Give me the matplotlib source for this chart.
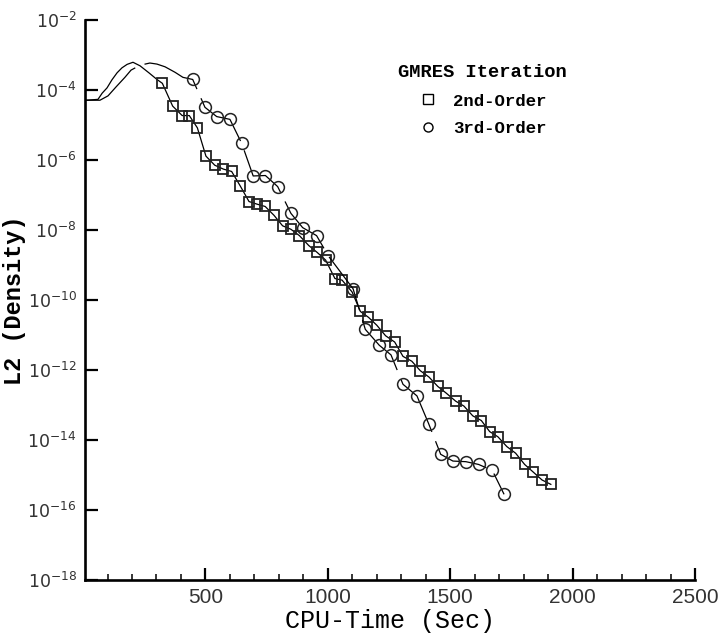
import matplotlib
matplotlib.use("Agg")
import matplotlib.pyplot as plt
from matplotlib.lines import Line2D
from matplotlib.ticker import FixedLocator, MultipleLocator, LogFormatterMathtext, NullLocator

plt.rcParams['mathtext.fontset'] = 'custom'
plt.rcParams['mathtext.rm'] = 'Liberation Sans'
plt.rcParams['mathtext.it'] = 'Liberation Sans'

# start-up phase (no markers)
o2_pre_x = [12, 61, 78, 98, 118, 139, 159, 180, 204, 233, 269, 302]
o2_pre_y = [5.1e-5, 5.4e-5, 8.1e-5, 1.15e-4, 1.95e-4, 3.1e-4, 4.3e-4, 5.4e-4,
            6.2e-4, 4.9e-4, 3.1e-4, 2.0e-4]
o3_pre_x = [12, 69, 102, 135, 171, 196, 233, 273, 302, 335, 376, 408]
o3_pre_y = [5.1e-5, 5.1e-5, 6.8e-5, 1.23e-4, 2.3e-4, 3.7e-4, 5.1e-4, 5.9e-4,
            5.5e-4, 4.6e-4, 3.2e-4, 2.3e-4]

# GMRES iterations, 2nd-order (squares)
o2_x = [324, 366, 405, 434, 467, 502, 538, 573, 607, 642, 678, 710, 744, 780,
        815, 849, 884, 922, 956, 991, 1029, 1058, 1099, 1133, 1166, 1200, 1236,
        1273, 1307, 1343, 1378, 1413, 1449, 1483, 1522, 1556, 1592, 1627, 1661,
        1695, 1731, 1767, 1804, 1838, 1875, 1911]
o2_y = [1.55e-4, 3.47e-5, 1.86e-5, 1.86e-5, 8.3e-6, 1.29e-6, 7.1e-7, 5.5e-7,
        4.7e-7, 1.82e-7, 6.5e-8, 5.5e-8, 4.7e-8, 2.63e-8, 1.32e-8, 1.05e-8,
        6.9e-9, 3.6e-9, 2.3e-9, 1.38e-9, 4.1e-10, 3.7e-10, 1.7e-10, 4.7e-11,
        3.2e-11, 1.9e-11, 9.5e-12, 6.3e-12, 2.45e-12, 1.78e-12, 9.5e-13, 6.3e-13,
        3.4e-13, 2.2e-13, 1.29e-13, 9.3e-14, 4.9e-14, 3.6e-14, 1.74e-14, 1.23e-14,
        6.5e-15, 4.2e-15, 2.0e-15, 1.23e-15, 7.2e-16, 5.4e-16]

# GMRES iterations, 3rd-order (circles)
o3_x = [448, 498, 546, 600, 648, 695, 745, 795, 849, 897, 954, 1002, 1103, 1153,
        1210, 1258, 1307, 1364, 1412, 1461, 1511, 1564, 1616, 1672, 1720]
o3_y = [2.0e-4, 3.2e-5, 1.74e-5, 1.45e-5, 3.0e-6, 3.5e-7, 3.6e-7, 1.74e-7,
        3.0e-8, 1.17e-8, 6.9e-9, 1.82e-9, 2.1e-10, 1.45e-11, 5.1e-12, 2.7e-12,
        3.9e-13, 1.82e-13, 2.9e-14, 3.9e-15, 2.5e-15, 2.4e-15, 2.0e-15, 1.35e-15,
        2.8e-16]

y_ticks = [1e-18, 1e-16, 1e-14, 1e-12, 1e-10, 1e-8, 1e-6, 1e-4, 1e-2]
x_ticks = [500, 1000, 1500, 2000, 2500]
legend_labels = ["2nd-Order", "3rd-Order"]

mono = "Liberation Mono"

fig = plt.figure(figsize=(7.18, 6.37), dpi=100)
ax = fig.add_axes([0.1184, 0.0895, 0.8496, 0.8791])

# 2nd-order: solid line, squares only on the GMRES part
x2 = o2_pre_x + o2_x
y2 = o2_pre_y + o2_y
ax.plot(x2, y2, color="black", lw=0.9, marker="s", ms=7, mfc="none", mec="#222222",
        mew=1.3, markevery=list(range(len(o2_pre_x), len(x2))))

# 3rd-order: long dashed line, circles on the GMRES part
x3 = o3_pre_x + o3_x
y3 = o3_pre_y + o3_y
ax.plot(x3, y3, color="black", lw=0.9, ls=(0, (50, 8)), marker="o", ms=8.5,
        mfc="none", mec="#222222", mew=1.1,
        markevery=list(range(len(o3_pre_x), len(x3))))

ax.set_yscale("log")
ax.set_ylim(1e-18, 1e-2)
ax.set_xlim(8, 2500)

ax.yaxis.set_major_locator(FixedLocator(y_ticks))
ax.yaxis.set_major_formatter(LogFormatterMathtext())
ax.yaxis.set_minor_locator(NullLocator())
ax.xaxis.set_major_locator(FixedLocator(x_ticks))
ax.xaxis.set_minor_locator(MultipleLocator(100))

for s in ["top", "right"]:
    ax.spines[s].set_visible(False)
for s in ["left", "bottom"]:
    ax.spines[s].set_linewidth(1.9)

ax.tick_params(which="major", direction="in", length=9, width=1.6, pad=6)
ax.tick_params(which="minor", direction="in", length=4.5, width=1.1)
ax.tick_params(axis="x", labelsize=15)
ax.tick_params(axis="y", labelsize=12.5, pad=6)
for lab in ax.get_xticklabels():
    lab.set_fontfamily("Liberation Sans")
    lab.set_color("#333333")
for lab in ax.get_yticklabels():
    lab.set_color("#333333")

ax.set_xlabel("CPU-Time (Sec)", fontsize=18, family=mono)
ax.set_ylabel("L2 (Density)", fontsize=17, family=mono, fontweight="bold")
ax.xaxis.set_label_coords(0.5, -0.052)
ax.yaxis.set_label_coords(-0.097, 0.5)

handles = [Line2D([], [], ls="none", marker="s", ms=6.5, mfc="none", mec="black", mew=1.0),
           Line2D([], [], ls="none", marker="o", ms=6.5, mfc="none", mec="black", mew=1.0)]
leg = ax.legend(handles, legend_labels, title="GMRES Iteration", frameon=False,
                loc="center", bbox_to_anchor=(482 / 718, 1 - 100 / 637),
                bbox_transform=fig.transFigure,
                prop={"family": mono, "weight": "bold", "size": 12.5},
                title_fontproperties={"family": mono, "weight": "bold", "size": 13.5},
                handletextpad=0.8, labelspacing=0.7, handlelength=1.2)

fig.savefig("out.png", dpi=100)
